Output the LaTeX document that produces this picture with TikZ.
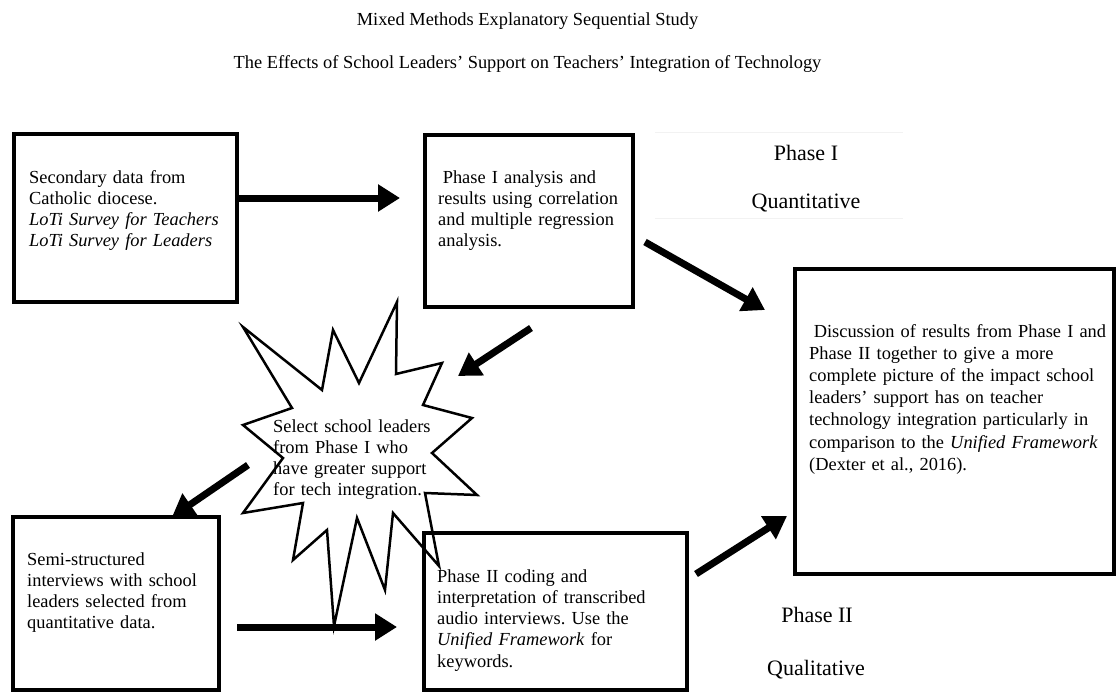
\documentclass[tikz,border=0pt]{standalone}
\usepackage{fontspec}
\setmainfont{Liberation Serif}
\usetikzlibrary{arrows.meta}
\frenchspacing
\begin{document}
\begin{tikzpicture}[x=1pt,y=-1pt,
  box/.style={draw, line width=4pt, inner sep=0pt},
  txt/.style={anchor=base west, align=left, inner sep=0pt, text width=#1,
    font=\fontsize{18.4}{21.3}\selectfont},
  ttl/.style={anchor=base, inner sep=0pt, font=\fontsize{18.4}{21.3}\selectfont},
  phase/.style={anchor=base, inner sep=0pt, font=\fontsize{22}{26}\selectfont},
  bigarrow/.style={line width=7pt, -{Triangle[length=22pt,width=26pt]}},
  starline/.style={draw, line width=2.5pt, line join=miter, fill=white},
  faint/.style={black!5, line width=1pt}
]
\useasboundingbox (0,0) rectangle (1117,694);

% faint frame lines behind the Phase I label
\coordinate (f1) at (655,132); \coordinate (f2) at (903,132);
\coordinate (f3) at (655,218); \coordinate (f4) at (903,218);
\draw[faint] (f1) -- (f2);
\draw[faint] (f3) -- (f4);

% titles
\node[ttl] (title1) at (527.5,25) {Mixed Methods Explanatory Sequential Study};
\node[ttl] (title2) at (527.5,68) {The Effects of School Leaders’ Support on Teachers’ Integration of Technology};

% starburst
\draw[starline] (243,327) -- (322,390) -- (333,330) -- (359,383) -- (397,302)
  -- (396,374) -- (442,363) -- (423,405) -- (472,418) -- (432,453)
  -- (477,495) -- (425,493) -- (439,566) -- (393,513) -- (385,590)
  -- (357,518) -- (334,626) -- (327,530) -- (293,560) -- (303,503)
  -- (243,513) -- (283,458) -- (243,425) -- (292,408) -- cycle;
\node[txt=200pt] (star) at (273,432) {Select school leaders\\from Phase I who\\have greater support\\for tech integration.};

% boxes
\node[box, minimum width=223pt, minimum height=168pt] (b1) at (125.5,218) {};
\node[box, minimum width=208pt, minimum height=172pt] (b2) at (529,221) {};
\node[box, minimum width=319pt, minimum height=305pt] (b3) at (954.5,421.5) {};
\node[box, minimum width=206pt, minimum height=173pt] (b4) at (116,603.5) {};
\node[box, minimum width=263pt, minimum height=157pt] (b5) at (555.5,611.5) {};

% box texts
\node[txt=210pt] (t1) at (29,183) {Secondary data from\\Catholic diocese.\\\textit{LoTi Survey for Teachers}\\\textit{LoTi Survey for Leaders}};
\node[txt=195pt] (t2) at (438,183) {\hspace{4.6pt}Phase I analysis and\\results using correlation\\and multiple regression\\analysis.};
\node[txt=300pt, font=\fontsize{18.4}{22.2}\selectfont] (t3) at (809,337) {\hspace{4.6pt}Discussion of results from Phase I and\\Phase II together to give a more\\complete picture of the impact school\\leaders’ support has on teacher\\technology integration particularly in\\comparison to the \textit{Unified Framework}\\(Dexter et al., 2016).};
\node[txt=190pt] (t4) at (27,565) {Semi-structured\\interviews with school\\leaders selected from\\quantitative data.};
\node[txt=245pt] (t5) at (437,582) {Phase II coding and\\interpretation of transcribed\\audio interviews. Use the\\\textit{Unified Framework} for\\keywords.};

% phase labels
\node[phase] (p1) at (806,160) {Phase I};
\node[phase] (q1) at (806,208) {Quantitative};
\node[phase] (p2) at (817,622) {Phase II};
\node[phase] (q2) at (816,675) {Qualitative};

% arrow end points
\coordinate (a1s) at (239,198); \coordinate (a1e) at (400,198);
\coordinate (a2s) at (645,242); \coordinate (a2e) at (765,310);
\coordinate (a3s) at (531,328); \coordinate (a3e) at (458,376);
\coordinate (a4s) at (248,465); \coordinate (a4e) at (172,517);
\coordinate (a5s) at (237,627); \coordinate (a5e) at (397,627);
\coordinate (a6s) at (696,574); \coordinate (a6e) at (787,516);

\draw[bigarrow] (a1s) -- (a1e);
\draw[bigarrow] (a2s) -- (a2e);
\draw[bigarrow] (a3s) -- (a3e);
\draw[bigarrow] (a4s) -- (a4e);
\draw[bigarrow] (a5s) -- (a5e);
\draw[bigarrow] (a6s) -- (a6e);
\end{tikzpicture}
\end{document}
